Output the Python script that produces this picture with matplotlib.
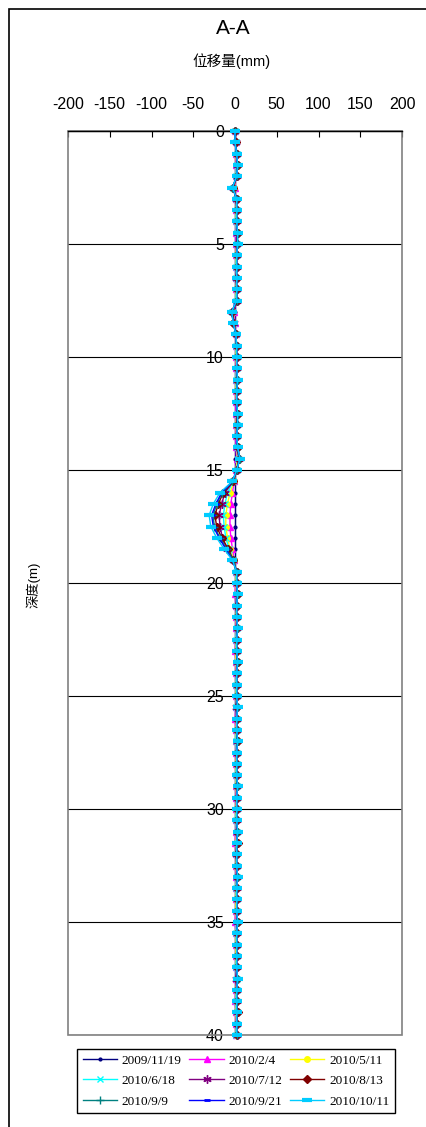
import numpy as np
import matplotlib
matplotlib.use("Agg")
import matplotlib.pyplot as plt
from matplotlib.patches import Rectangle

plt.rcParams['font.family'] = ['Liberation Sans', 'Noto Sans CJK TC', 'DejaVu Sans']
plt.rcParams['axes.unicode_minus'] = False

# depth of each reading (m), every 0.5 m
depths = np.arange(0, 40.5, 0.5)

dates = ["2009/11/19", "2010/2/4", "2010/5/11",
         "2010/6/18", "2010/7/12", "2010/8/13",
         "2010/9/9", "2010/9/21", "2010/10/11"]

# displacement (mm) per reading date
d_091119 = [0, 0, 0, 0, 0, 0, 0, 0, 0, 0,
            0, 0, 0, 0, 0, 0, 0, 0, 0, 0,
            0, 0, 0, 0, 0, 0, 0, 0, 0, 0, 0,
            0, 0, 0, 0, 0, 0, 0, 0,
            0, 0, 0, 0, 0, 0, 0, 0, 0, 0, 0, 0, 0, 0, 0, 0, 0, 0, 0, 0, 0,
            0, 0, 0, 0, 0, 0, 0, 0, 0, 0, 0, 0, 0, 0, 0, 0, 0, 0, 0, 0, 0]
d_100204 = [0, 1, 1, 1, 1, 0, 1, 1, 1, 1,
            1, 1, 1, 1, 1, 1, -1, 0, 1, 1,
            1, 1, 1, 1, 1, 1, 1, 1, 1, 2, 1,
            -1, -3, -5, -6, -6, -5, -3, -1,
            1, 1, 0, 1, 1, 1, 1, 0, 1, 1, 1, 1, 1, 0, 1, 1, 1, 1, 1, 1, 1,
            1, 1, 1, 0, 1, 1, 1, 1, 1, 1, 0, 1, 1, 1, 1, 1, 1, 0, 1, 1, 1]
d_100511 = [0, 1, 1, 2, 1, -1, 1, 1, 1, 2,
            2, 1, 1, 1, 1, 1, -2, -1, 1, 1,
            1, 2, 1, 1, 2, 2, 1, 2, 2, 3, 1,
            -1, -6, -9, -11, -11, -9, -6, -1,
            1, 1, 2, 1, 1, 2, 1, 1, 1, 2, 1, 1, 1, 2, 1, 1, 2, 1, 1, 1, 2,
            1, 1, 2, 1, 1, 1, 2, 1, 1, 1, 2, 1, 1, 1, 1, 2, 1, 1, 1, 2, 1]
d_100618 = [0, 1, 2, 2, 1, -2, 1, 2, 1, 2,
            2, 2, 1, 1, 2, 1, -3, -1, 1, 1,
            2, 2, 1, 2, 2, 2, 2, 2, 2, 4, 2,
            -2, -9, -12, -14, -13, -11, -7, -2,
            1, 2, 2, 1, 2, 2, 1, 2, 2, 2, 1, 2, 1, 2, 2, 1, 2, 2, 1, 2, 2,
            2, 1, 2, 2, 1, 2, 2, 1, 2, 2, 2, 1, 2, 2, 1, 2, 2, 1, 2, 2, 1]
d_100712 = [0, 1, 2, 2, 2, -2, 1, 2, 2, 2,
            2, 2, 2, 1, 2, 2, -3, -1, 1, 2,
            2, 2, 2, 2, 2, 2, 2, 2, 2, 5, 2,
            -2, -12, -16, -19, -18, -15, -9, -2,
            2, 2, 2, 1, 2, 2, 2, 2, 2, 2, 2, 2, 1, 2, 2, 2, 2, 2, 2, 2, 2,
            2, 2, 2, 2, 1, 2, 2, 2, 2, 2, 2, 2, 2, 2, 2, 1, 2, 2, 2, 2, 2]
d_100813 = [0, 1, 2, 3, 2, -2, 2, 2, 2, 3,
            2, 2, 2, 2, 2, 2, -3, -2, 1, 2,
            2, 2, 2, 2, 2, 3, 2, 2, 3, 5, 2,
            -2, -14, -20, -24, -22, -16, -8, -2,
            2, 2, 3, 2, 2, 2, 2, 2, 3, 2, 2, 2, 2, 2, 2, 3, 2, 2, 2, 2, 2,
            2, 2, 2, 3, 2, 2, 2, 2, 2, 2, 3, 2, 2, 2, 2, 2, 2, 2, 3, 2, 2]
d_100909 = [0, 0, 2, 3, 2, -3, 2, 2, 2, 3,
            3, 2, 2, 2, 2, 2, -4, -2, 1, 2,
            2, 2, 3, 2, 2, 3, 3, 2, 3, 6, 2,
            -3, -15, -22, -26, -25, -18, -10, -2,
            2, 2, 3, 2, 2, 3, 2, 2, 3, 2, 2, 2, 3, 2, 2, 3, 2, 2, 2, 3, 2,
            2, 2, 3, 2, 2, 2, 3, 2, 2, 2, 3, 2, 2, 2, 2, 3, 2, 2, 2, 2, 2]
d_100921 = [0, 0, 2, 3, 2, -3, 2, 2, 2, 3,
            3, 2, 2, 2, 2, 2, -4, -2, 1, 2,
            2, 2, 3, 2, 2, 3, 3, 2, 3, 6, 2,
            -3, -16, -23, -28, -26, -19, -11, -3,
            2, 2, 3, 2, 2, 3, 2, 2, 3, 2, 2, 2, 3, 2, 2, 3, 2, 2, 2, 3, 2,
            2, 2, 3, 2, 2, 2, 3, 2, 2, 2, 3, 2, 2, 2, 2, 3, 2, 2, 2, 2, 2]
d_101011 = [0, 0, 2, 3, 2, -3, 2, 2, 2, 3,
            3, 2, 2, 2, 2, 2, -4, -2, 1, 2,
            2, 2, 3, 2, 2, 3, 3, 2, 3, 6, 2,
            -3, -18, -26, -31, -29, -22, -13, -3,
            2, 2, 3, 2, 2, 3, 2, 2, 3, 2, 2, 2, 3, 2, 2, 3, 2, 2, 2, 3, 2,
            2, 2, 3, 2, 2, 2, 3, 2, 2, 2, 3, 2, 2, 2, 2, 3, 2, 2, 2, 2, 2]

series = [d_091119, d_100204, d_100511, d_100618, d_100712,
          d_100813, d_100909, d_100921, d_101011]

# (color, marker, markersize, markeredgewidth)
styles = [
    ("#000080", "o", 2, 1),
    ("#FF00FF", "^", 4, 1),
    ("#FFFF00", "o", 4, 1),
    ("#00FFFF", "x", 4, 1),
    ("#800080", (6, 2, 0), 6, 1),
    ("#800000", "D", 4, 1),
    ("#008080", "+", 6, 1),
    ("#0000FF", "_", 4, 2),
    ("#00CCFF", "_", 7, 3),
]

fig = plt.figure(figsize=(4.26, 11.27), dpi=100)
ax = fig.add_axes([68 / 426, 1 - 1035 / 1127, 334 / 426, 904 / 1127])

handles = []
for vals, lab, (c, m, ms, mew) in zip(series, dates, styles):
    h, = ax.plot(vals, depths, color=c, lw=1, marker=m, ms=ms, mew=mew,
                 mec=c, mfc=c, label=lab, clip_on=False, zorder=3)
    handles.append(h)

ax.set_xlim(-200, 200)
ax.set_ylim(40, 0)

ax.xaxis.tick_top()
ax.set_xticks(range(-200, 201, 50))
ax.tick_params(axis='x', direction='in', length=4, width=0.8, pad=14,
               labelsize=11.5)

ax.set_yticks(range(0, 41, 5))
ax.tick_params(axis='y', length=0, pad=8, labelsize=11.5)
ax.spines['left'].set_position(('data', 0))
ax.spines['left'].set_color('black')
ax.spines['right'].set_visible(False)
ax.spines['bottom'].set_visible(False)
ax.spines['top'].set_linewidth(1)

ax.set_axisbelow(True)
ax.grid(axis='y', color='black', lw=0.8)
ax.add_patch(Rectangle((0, 0), 1, 1, transform=ax.transAxes, fill=False,
                       ec='#808080', lw=1.2, clip_on=False, zorder=1))

fig.text(33 / 426, 1 - 585 / 1127, "深度(m)", rotation=90, ha='center',
         va='center', fontsize=9.5)
fig.text(233 / 426, 1 - 28 / 1127, "A-A", ha='center', va='center', fontsize=15)
fig.text(231 / 426, 1 - 61 / 1127, "位移量(mm)", ha='center', va='center',
         fontsize=10.5)

# outer chart border (only left and top edges show)
fig.add_artist(Rectangle((9 / 426, -0.05), 1.2, 1.05 - 9 / 1127,
                         transform=fig.transFigure, fill=False,
                         ec='black', lw=1.2))

order = [0, 3, 6, 1, 4, 7, 2, 5, 8]
leg = fig.legend([handles[i] for i in order], [dates[i] for i in order],
                 ncol=3, loc='center', bbox_to_anchor=(236 / 426, 1 - 1081 / 1127),
                 prop={'family': 'Liberation Serif', 'size': 9.5},
                 fancybox=False, edgecolor='black', framealpha=1,
                 handlelength=2.6, handletextpad=0.35, columnspacing=0.6,
                 labelspacing=0.62, borderpad=0.4, borderaxespad=0)
leg.get_frame().set_linewidth(1)

fig.savefig("out.png", dpi=100)
